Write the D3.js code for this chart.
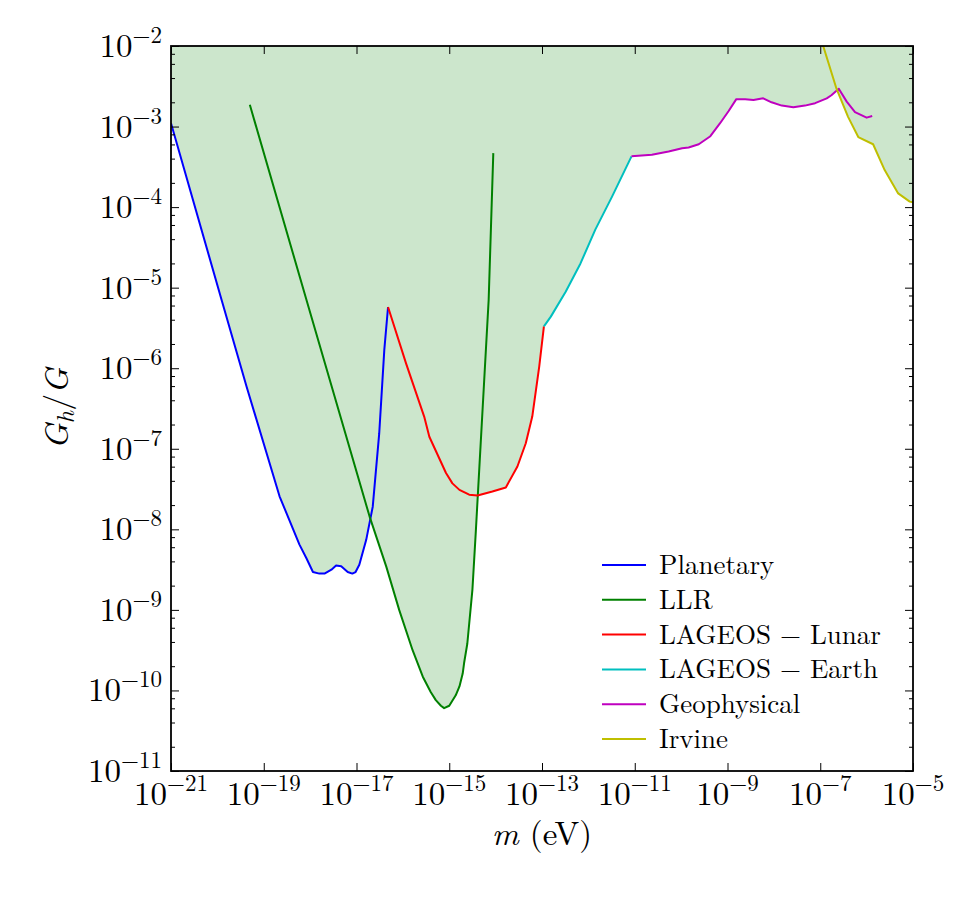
<!DOCTYPE html>
<html>
<head>
<meta charset="utf-8">
<script src="https://cdn.jsdelivr.net/npm/d3@7"></script>
<style>
  body { margin: 0; background: #fff; }
  svg { display: block; }
</style>
</head>
<body>
<svg id="chart" width="975" height="900"></svg>
<script>
// Constraint curves: m in eV, G_h/G
var planetaryM = [1e-21, 1.23e-20, 4.27e-20, 2.19e-19, 5.89e-19, 8.32e-19, 1.15e-18, 1.58e-18,
  2.04e-18, 2.88e-18, 3.63e-18, 4.68e-18, 6.46e-18, 8.13e-18, 9.55e-18, 1.15e-17, 1.62e-17,
  2.24e-17, 3.09e-17, 3.98e-17, 4.79e-17];
var planetaryG = [1.10e-3, 7.08e-6, 5.89e-7, 2.57e-8, 6.46e-9, 4.37e-9, 2.95e-9, 2.82e-9,
  2.82e-9, 3.16e-9, 3.55e-9, 3.47e-9, 2.95e-9, 2.82e-9, 2.95e-9, 3.63e-9, 7.41e-9,
  1.91e-8, 1.55e-7, 1.70e-6, 5.75e-6];

var llrM = [5.01e-20, 8.32e-19, 1.91e-17, 4.37e-17, 8.32e-17, 1.62e-16, 2.69e-16, 3.98e-16,
  5.13e-16, 6.61e-16, 7.76e-16, 1.0e-15, 1.38e-15, 1.66e-15, 1.95e-15, 2.09e-15, 2.45e-15,
  3.16e-15, 3.72e-15, 4.47e-15, 5.62e-15, 7.08e-15, 8.91e-15];
var llrG = [1.86e-3, 7.08e-6, 1.45e-8, 3.47e-9, 1.0e-9, 3.16e-10, 1.48e-10, 9.55e-11,
  7.59e-11, 6.46e-11, 6.03e-11, 6.46e-11, 8.71e-11, 1.12e-10, 1.62e-10, 2.19e-10, 3.80e-10,
  1.78e-9, 8.91e-9, 6.03e-8, 6.46e-7, 7.08e-6, 4.68e-4];

var lunarM = [4.79e-17, 1.17e-16, 2.88e-16, 3.72e-16, 8.51e-16, 1.17e-15, 1.66e-15, 2.69e-15,
  4.07e-15, 8.51e-15, 1.66e-14, 2.95e-14, 4.47e-14, 6.17e-14, 8.71e-14, 1.10e-13];
var lunarG = [5.75e-6, 1.15e-6, 2.51e-7, 1.41e-7, 5.01e-8, 3.72e-8, 3.09e-8, 2.69e-8,
  2.63e-8, 2.95e-8, 3.31e-8, 6.03e-8, 1.17e-7, 2.51e-7, 1.05e-6, 3.31e-6];

var earthM = [1.10e-13, 1.55e-13, 3.24e-13, 6.76e-13, 1.41e-12, 3.24e-12, 8.51e-12];
var earthG = [3.31e-6, 4.37e-6, 8.91e-6, 2.0e-5, 5.25e-5, 1.35e-4, 4.27e-4];

var geoM = [8.51e-12, 2.34e-11, 5.37e-11, 1.05e-10, 1.45e-10, 2.40e-10, 4.27e-10, 6.92e-10,
  1.05e-9, 1.55e-9, 2.40e-9, 3.63e-9, 5.89e-9, 8.91e-9, 1.48e-8, 2.63e-8, 4.68e-8, 7.76e-8,
  1.38e-7, 1.74e-7, 2.51e-7, 3.72e-7, 5.62e-7, 1.0e-6, 1.32e-6];
var geoG = [4.27e-4, 4.47e-4, 4.90e-4, 5.37e-4, 5.50e-4, 6.03e-4, 7.59e-4, 1.10e-3,
  1.55e-3, 2.19e-3, 2.19e-3, 2.14e-3, 2.24e-3, 2.0e-3, 1.82e-3, 1.74e-3, 1.82e-3, 1.95e-3,
  2.24e-3, 2.45e-3, 2.95e-3, 2.04e-3, 1.51e-3, 1.29e-3, 1.35e-3];

var irvineM = [1.10e-7, 2.24e-7, 3.98e-7, 6.61e-7, 1.38e-6, 2.45e-6, 4.79e-6, 8.51e-6, 1e-5];
var irvineG = [1.10e-2, 2.95e-3, 1.32e-3, 7.41e-4, 6.03e-4, 2.88e-4, 1.48e-4, 1.17e-4, 1.15e-4];

var seriesNames = ["Planetary", "LLR", "LAGEOS \u2212 Lunar", "LAGEOS \u2212 Earth", "Geophysical", "Irvine"];
var seriesColors = ["#0000ff", "#008000", "#ff0000", "#00bfbf", "#bf00bf", "#bfbf00"];

// Tick exponents
var xTickExps = [-21, -19, -17, -15, -13, -11, -9, -7, -5];
var yTickExps = [-11, -10, -9, -8, -7, -6, -5, -4, -3, -2];
var yMinorSubs = [2, 4, 6, 8];

var series = [
  {m: planetaryM, g: planetaryG},
  {m: llrM, g: llrG},
  {m: lunarM, g: lunarG},
  {m: earthM, g: earthG},
  {m: geoM, g: geoG},
  {m: irvineM, g: irvineG}
];
series.forEach(function(s, i) {
  s.name = seriesNames[i];
  s.color = seriesColors[i];
  s.points = s.m.map(function(d, j) { return [d, s.g[j]]; });
});

var margin = {top: 46, left: 171};
var width = 742, height = 725;
// Computer Modern look-alike, set inline so nothing overrides it
var serif = "'Latin Modern Roman', 'Liberation Serif', serif";

var svg = d3.select("#chart");
var plot = svg.append("g").attr("transform", "translate(" + margin.left + "," + margin.top + ")");

var x = d3.scaleLog().domain([1e-21, 1e-5]).range([0, width]);
var y = d3.scaleLog().domain([1e-11, 1e-2]).range([height, 0]);

plot.append("clipPath").attr("id", "clip")
  .append("rect").attr("width", width).attr("height", height);

// Value of a curve at log10(m), interpolated in log-log space
function logInterp(s, lm) {
  for (var i = 0; i < s.m.length - 1; i++) {
    var a = Math.log10(s.m[i]), b = Math.log10(s.m[i + 1]);
    if (lm >= a && lm <= b) {
      var t = b === a ? 0 : (lm - a) / (b - a);
      var ga = Math.log10(s.g[i]), gb = Math.log10(s.g[i + 1]);
      return ga + t * (gb - ga);
    }
  }
  return null;
}

// Lower envelope of all the curves -> excluded region is shaded above it
var sampleLogs = d3.range(0, 3201).map(function(i) { return -21 + i * 16 / 3200; });
series.forEach(function(s) { s.m.forEach(function(d) { sampleLogs.push(Math.log10(d)); }); });
sampleLogs = sampleLogs.filter(function(d) { return d >= -21 && d <= -5; }).sort(d3.ascending);

var envelope = sampleLogs.map(function(lm) {
  var best = null;
  series.forEach(function(s) {
    var v = logInterp(s, lm);
    if (v !== null && (best === null || v < best)) best = v;
  });
  return [Math.pow(10, lm), Math.pow(10, best === null ? -2 : best)];
});

var area = d3.area()
  .x(function(d) { return x(d[0]); })
  .y0(0)
  .y1(function(d) { return y(d[1]); });

plot.append("path")
  .datum(envelope)
  .attr("clip-path", "url(#clip)")
  .attr("fill", "green")
  .attr("fill-opacity", 0.2)
  .attr("d", area);

var line = d3.line()
  .x(function(d) { return x(d[0]); })
  .y(function(d) { return y(d[1]); });

plot.append("g").attr("clip-path", "url(#clip)")
  .selectAll("path")
  .data(series)
  .enter().append("path")
  .attr("fill", "none")
  .attr("stroke", function(d) { return d.color; })
  .attr("stroke-width", 2)
  .attr("stroke-linejoin", "round")
  .attr("d", function(d) { return line(d.points); });

// Ticks point inward on all four sides
var xTicks = xTickExps.map(function(e) { return Math.pow(10, e); });
var yTicks = yTickExps.map(function(e) { return Math.pow(10, e); });
var yMinor = [];
yTickExps.slice(0, -1).forEach(function(e) {
  yMinorSubs.forEach(function(s) { yMinor.push(s * Math.pow(10, e)); });
});

function tickAxis(axis, transform) {
  var g = plot.append("g").attr("transform", transform).call(axis);
  g.select(".domain").remove();
  g.selectAll("text").remove();
  g.selectAll("line").attr("stroke", "#000").attr("stroke-width", 1);
}
tickAxis(d3.axisBottom(x).tickValues(xTicks).tickSize(-8), "translate(0," + height + ")");
tickAxis(d3.axisTop(x).tickValues(xTicks).tickSize(-8), "translate(0,0)");
tickAxis(d3.axisLeft(y).tickValues(yTicks).tickSize(-8), "translate(0,0)");
tickAxis(d3.axisRight(y).tickValues(yTicks).tickSize(-8), "translate(" + width + ",0)");
tickAxis(d3.axisLeft(y).tickValues(yMinor).tickSize(-4), "translate(0,0)");
tickAxis(d3.axisRight(y).tickValues(yMinor).tickSize(-4), "translate(" + width + ",0)");

plot.append("rect")
  .attr("width", width).attr("height", height)
  .attr("fill", "none").attr("stroke", "#000").attr("stroke-width", 1.8);

// Power-of-ten labels with superscript exponent
function powLabel(text, exp) {
  text.append("tspan").text("10");
  text.append("tspan").attr("dy", -14).style("font-size", "23px").text("\u2212" + Math.abs(exp));
}

plot.append("g").selectAll("text")
  .data(xTickExps)
  .enter().append("text")
  .attr("x", function(d) { return x(Math.pow(10, d)); })
  .attr("y", height + 34)
  .attr("text-anchor", "middle")
  .style("font-family", serif)
  .style("font-size", "33px")
  .each(function(d) { powLabel(d3.select(this), d); });

plot.append("g").selectAll("text")
  .data(yTickExps)
  .enter().append("text")
  .attr("x", -9)
  .attr("y", function(d) { return y(Math.pow(10, d)) + 11; })
  .attr("text-anchor", "end")
  .style("font-family", serif)
  .style("font-size", "33px")
  .each(function(d) { powLabel(d3.select(this), d); });

// Axis titles
var xTitle = svg.append("text")
  .attr("x", margin.left + width / 2)
  .attr("y", 845)
  .attr("text-anchor", "middle")
  .style("font-family", serif)
  .style("font-size", "33px");
xTitle.append("tspan").style("font-style", "italic").text("m");
xTitle.append("tspan").text(" (eV)");

var yTitle = svg.append("text")
  .attr("transform", "translate(68," + (margin.top + height / 2) + ") rotate(-90)")
  .attr("text-anchor", "middle")
  .style("font-family", serif)
  .style("font-size", "34px");
yTitle.append("tspan").style("font-style", "italic").text("G");
yTitle.append("tspan").style("font-style", "italic").style("font-size", "24px").attr("dy", 6).text("h");
yTitle.append("tspan").attr("dy", -6).text("/");
yTitle.append("tspan").style("font-style", "italic").text("G");

// Legend
var legend = svg.append("g").attr("transform", "translate(602,565)");
var rows = legend.selectAll("g")
  .data(series)
  .enter().append("g")
  .attr("transform", function(d, i) { return "translate(0," + (i * 34.8) + ")"; });
rows.append("line")
  .attr("x1", 0).attr("x2", 44)
  .attr("stroke", function(d) { return d.color; })
  .attr("stroke-width", 2);
rows.append("text")
  .attr("x", 57).attr("y", 9)
  .style("font-family", serif)
  .style("font-size", "27px")
  .text(function(d) { return d.name; });
</script>
</body>
</html>
